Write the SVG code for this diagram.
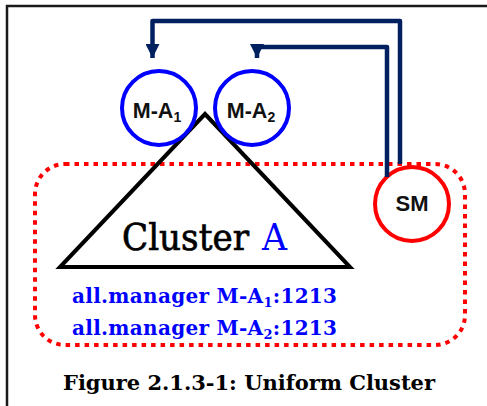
<svg xmlns="http://www.w3.org/2000/svg" width="487" height="406" viewBox="0 0 487 406">
<style>
.mgr{fill:#fff;stroke:#0000ff;stroke-width:4}
.sm{fill:#fff;stroke:#ff0000;stroke-width:4}
.lbl{font-family:"Liberation Sans",Arial,sans-serif;font-weight:bold;fill:#111;text-anchor:middle}
.conn{fill:none;stroke:#002060;stroke-width:4.5;stroke-linejoin:round}
.ser{font-family:"DejaVu Serif","Liberation Serif",serif}
.blue{fill:#0000ff}
</style>
<defs>
<marker id="ah" markerWidth="14" markerHeight="14" viewBox="0 0 14 14" refX="14" refY="7" orient="auto" markerUnits="userSpaceOnUse">
<path d="M0,0 L14,7 L0,14 Z" fill="#002060"/>
</marker>
</defs>
<rect x="0" y="0" width="487" height="406" fill="#fff"/>
<rect x="7" y="6" width="500" height="420" fill="none" stroke="#1a1a1a" stroke-width="2.5"/>
<g id="clusterA">
<rect x="35" y="164" width="430" height="181" rx="30" ry="30" fill="none" stroke="#ff0000" stroke-width="4" stroke-dasharray="4.5 5"/>
<path d="M205,114 L350,267 L60,267 Z" fill="none" stroke="#000" stroke-width="4" stroke-linejoin="miter"/>
<text class="ser" x="122" y="250" font-size="37" fill="#000" stroke="#000" stroke-width="0.7" textLength="127" lengthAdjust="spacingAndGlyphs">Cluster</text>
<text class="ser blue" x="262" y="250" font-size="37" textLength="25" lengthAdjust="spacingAndGlyphs">A</text>
<text class="ser blue" x="72" y="303" font-size="20" font-weight="bold" textLength="265">all.manager M-A<tspan font-size="13" dy="4">1</tspan><tspan dy="-4">:1213</tspan></text>
<text class="ser blue" x="72" y="335" font-size="20" font-weight="bold" textLength="265">all.manager M-A<tspan font-size="13" dy="4">2</tspan><tspan dy="-4">:1213</tspan></text>
</g>
<g id="MA1">
<circle class="mgr" cx="159" cy="108" r="37"/>
<text class="lbl" x="157" y="118" font-size="21.5">M-A<tspan font-size="14" dy="4">1</tspan></text>
</g>
<g id="MA2">
<circle class="mgr" cx="252" cy="108" r="37"/>
<text class="lbl" x="251" y="118" font-size="21.5">M-A<tspan font-size="14" dy="4">2</tspan></text>
</g>
<g id="SM">
<circle class="sm" cx="412" cy="204" r="37"/>
<text class="lbl" x="412" y="211" font-size="22">SM</text>
</g>
<g id="connectors">
<path class="conn" d="M400,164 L400,21 L152.5,21 L152.5,58" marker-end="url(#ah)"/>
<path class="conn" d="M387,177 L387,47 L257,47 L257,58" marker-end="url(#ah)"/>
</g>
<text class="ser" x="63" y="390" font-size="21" font-weight="bold" fill="#000" textLength="372">Figure 2.1.3-1: Uniform Cluster</text>
</svg>
